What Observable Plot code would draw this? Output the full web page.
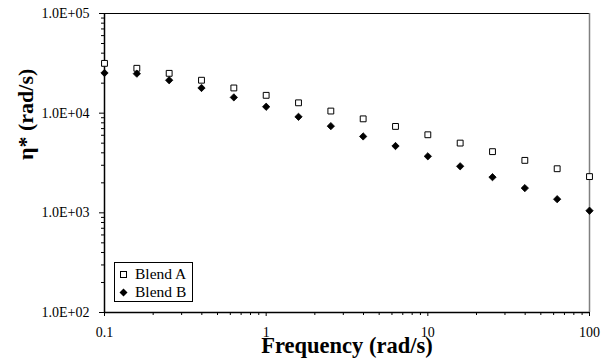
<!DOCTYPE html>
<html>
<head>
<meta charset="utf-8">
<script src="https://cdn.jsdelivr.net/npm/d3@7"></script>
<script src="https://cdn.jsdelivr.net/npm/@observablehq/plot@0.6"></script>
<style>
  body { margin: 0; background: #fff; }
  #chart { position: relative; width: 602px; height: 358px; }
  .legend {
    position: absolute; left: 114px; top: 262px; width: 77px; height: 38px;
    border: 1px solid #000; background: #fff;
    font-family: "Liberation Serif", "Times New Roman", serif; font-size: 15.5px; color: #000;
  }
  .legend .row { position: absolute; left: 0; height: 18px; line-height: 18px; white-space: nowrap; }
  .legend svg { position: absolute; left: 4px; top: 5px; }
  .legend span { position: absolute; left: 20px; top: 0; }
</style>
</head>
<body>
<div id="chart"></div>
<script>
// Complex viscosity of two blends versus angular frequency
const frequency = [0.1, 0.1585, 0.2512, 0.3981, 0.631, 1, 1.585, 2.512, 3.981, 6.31, 10, 15.85, 25.12, 39.81, 63.1, 100];
const blendA = [31600, 28200, 25100, 21400, 17900, 15100, 12700, 10500, 8770, 7360, 6070, 5010, 4110, 3360, 2770, 2310];
const blendB = [25300, 24900, 21400, 17900, 14400, 11600, 9190, 7410, 5840, 4680, 3690, 2930, 2280, 1770, 1370, 1050];
const seriesNames = ["Blend A", "Blend B"];

const xTicks = [0.1, 1, 10, 100];
const xTickLabels = ["0.1", "1", "10", "100"];
const yTicks = [1e2, 1e3, 1e4, 1e5];
const yTickLabels = ["1.0E+02", "1.0E+03", "1.0E+04", "1.0E+05"];
const xTitle = "Frequency (rad/s)";
const yTitle = "η* (rad/s)";

const rowsA = frequency.map((f, i) => ({x: f, y: blendA[i]}));
const rowsB = frequency.map((f, i) => ({x: f, y: blendB[i]}));

// log minor ticks 2..9 within each decade
const minor = (lo, hi) => d3.range(lo, hi).flatMap(e => d3.range(2, 10).map(m => m * 10 ** e));
const minorX = minor(-1, 2);
const minorY = minor(2, 5);

const serif = '"Liberation Serif", "Times New Roman", serif';

const chart = Plot.plot({
  width: 602,
  height: 358,
  marginLeft: 104,
  marginRight: 13,
  marginTop: 13,
  marginBottom: 46,
  style: {fontFamily: serif, background: "#fff", color: "#000", overflow: "visible"},
  x: {type: "log", domain: [0.1, 100]},
  y: {type: "log", domain: [100, 1e5]},
  marks: [
    Plot.ruleY([1e5], {stroke: "#000", strokeWidth: 1}),
    Plot.ruleX([100], {stroke: "#808080", strokeWidth: 1.5}),
    Plot.axisX({ticks: minorX, tickSize: 3, text: null, label: null}),
    Plot.axisX({ticks: xTicks, tickSize: 4, tickPadding: 11, fontSize: 14,
      tickFormat: d => xTickLabels[xTicks.indexOf(d)], label: null}),
    Plot.axisY({ticks: minorY, tickSize: 3, text: null, label: null}),
    Plot.axisY({ticks: yTicks, tickSize: 5, tickPadding: 10, fontSize: 14,
      tickFormat: d => yTickLabels[yTicks.indexOf(d)], label: null}),
    Plot.ruleY([100], {stroke: "#000", strokeWidth: 1.5}),
    Plot.ruleX([0.1], {stroke: "#000", strokeWidth: 1.5}),
    Plot.dot(rowsA, {x: "x", y: "y", symbol: "square", r: 3.3, stroke: "#000", strokeWidth: 1, fill: "#fff"}),
    Plot.dot(rowsB, {x: "x", y: "y", symbol: "diamond2", r: 3.3, fill: "#000", stroke: "#000", strokeWidth: 0.8}),
    Plot.text([xTitle], {frameAnchor: "bottom", dy: 33, lineAnchor: "middle",
      fontSize: 22.5, fontWeight: "bold", fill: "#000"}),
    Plot.text([yTitle], {frameAnchor: "left", dx: -79, dy: -3, rotate: -90, lineAnchor: "middle",
      fontSize: 22, fontWeight: "bold", fill: "#000"})
  ]
});

const host = document.getElementById("chart");
host.appendChild(chart);

// legend box inside the plot area
const legend = document.createElement("div");
legend.className = "legend";
legend.innerHTML = `
  <div class="row" style="top:2px">
    <svg width="10" height="10"><rect x="1.5" y="1.5" width="6" height="6" fill="#fff" stroke="#000"/></svg>
    <span>${seriesNames[0]}</span>
  </div>
  <div class="row" style="top:20px">
    <svg width="10" height="10"><path d="M4.5 0.5 L8.5 4.5 L4.5 8.5 L0.5 4.5 Z" fill="#000"/></svg>
    <span>${seriesNames[1]}</span>
  </div>`;
host.appendChild(legend);
</script>
</body>
</html>
